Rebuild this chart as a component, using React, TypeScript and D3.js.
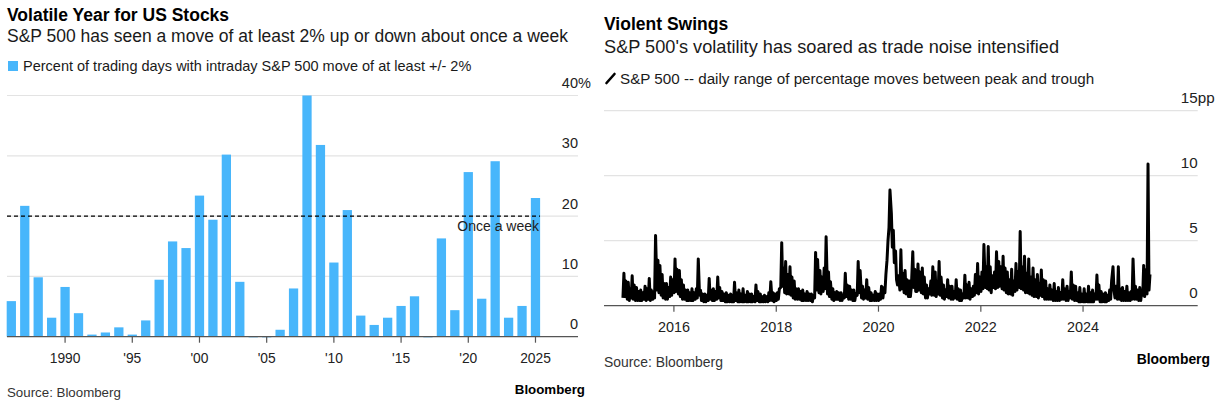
import React, { useRef, useEffect } from "react";
import * as d3 from "d3";

const WIDTH = 1221;
const HEIGHT = 406;
const FONT = '"Liberation Sans", Arial, Helvetica, sans-serif';
const BAR_COLOR = "#48b6fb";
const GRID_COLOR = "#e3e3e3";
const AXIS_COLOR = "#555";

// --- Left chart: share of trading days with a +/- 2% intraday move
const barYears = [
  1986, 1987, 1988, 1989, 1990, 1991, 1992, 1993, 1994, 1995,
  1996, 1997, 1998, 1999, 2000, 2001, 2002, 2003, 2004, 2005,
  2006, 2007, 2008, 2009, 2010, 2011, 2012, 2013, 2014, 2015,
  2016, 2017, 2018, 2019, 2020, 2021, 2022, 2023, 2024, 2025,
];
const pctBigMoveDays = [
  5.9, 21.7, 9.85, 3.15, 8.25, 3.9, 0.35, 0.7, 1.55, 0.35,
  2.7, 9.45, 15.8, 14.7, 23.4, 19.4, 30.2, 9.1, 0, 0,
  1.15, 8.0, 40.0, 31.8, 12.3, 21.0, 3.5, 1.95, 3.15, 5.1,
  6.7, 0, 16.3, 4.4, 27.3, 6.3, 29.1, 3.15, 5.1, 23.0,
];
const barTickYears = [1990, 1995, 2000, 2005, 2010, 2015, 2020, 2025];
const barTickLabels = ["1990", "'95", "'00", "'05", "'10", "'15", "'20", "2025"];
const pctTicks = [0, 10, 20, 30, 40];
const onceAWeek = 20;

// --- Right chart: daily range between peak and trough (pp)
// four readings per month (around the 2nd, 9th, 16th, 23rd), from Jan 2015
const readingDays = [2, 9, 16, 23];
const range2015 = [
  0.6, 2.5, 0.7, 1.9, 0.5, 1.8, 0.4, 1.3, 0.6, 2.3, 0.5, 1.6,
  0.4, 1.4, 0.4, 1.1, 0.4, 1.2, 0.4, 1.0, 0.5, 1.5, 0.4, 1.3,
  0.5, 2.1, 0.4, 1.2, 0.5, 1.1, 0.6, 5.4, 1.2, 3.5, 1.0, 3.1,
  0.8, 2.4, 0.6, 1.7, 0.5, 1.7, 0.5, 1.4, 0.7, 2.2, 0.8, 2.0,
];
const range2016 = [
  1.0, 3.6, 1.1, 2.8, 0.9, 2.7, 0.7, 2.0, 0.5, 1.6, 0.5, 1.2,
  0.4, 1.2, 0.4, 1.0, 0.4, 1.3, 0.4, 1.0, 0.5, 1.3, 0.6, 3.6,
  0.8, 1.2, 0.4, 0.9, 0.3, 0.9, 0.3, 0.8, 0.4, 2.1, 0.5, 1.2,
  0.4, 1.3, 0.4, 1.1, 0.5, 2.2, 0.6, 1.4, 0.4, 1.1, 0.4, 0.9,
];
const range2017 = [
  0.3, 1.0, 0.3, 0.8, 0.3, 0.9, 0.3, 0.8, 0.3, 1.8, 0.4, 1.0,
  0.3, 1.2, 0.3, 0.9, 0.3, 1.3, 0.3, 0.8, 0.3, 1.1, 0.3, 0.9,
  0.3, 0.9, 0.3, 0.7, 0.3, 1.6, 0.4, 1.1, 0.3, 0.9, 0.3, 0.7,
  0.3, 0.8, 0.3, 0.7, 0.3, 1.0, 0.4, 1.85, 0.4, 1.0, 0.3, 0.9,
];
const range2018 = [
  0.4, 1.0, 0.5, 1.3, 1.4, 4.85, 1.5, 2.9, 1.0, 3.4, 0.9, 2.4,
  0.9, 3.0, 0.8, 2.2, 0.6, 1.9, 0.5, 1.3, 0.5, 1.3, 0.5, 1.1,
  0.4, 1.2, 0.4, 0.9, 0.4, 1.1, 0.4, 0.9, 0.4, 0.9, 0.3, 0.8,
  0.6, 4.1, 1.2, 3.56, 1.0, 2.7, 0.9, 2.2, 1.1, 2.9, 1.3, 5.3,
];
const range2019 = [
  0.9, 2.6, 0.7, 1.85, 0.5, 1.3, 0.4, 1.0, 0.5, 1.1, 0.5, 1.0,
  0.4, 1.0, 0.4, 0.8, 0.6, 2.5, 0.7, 1.6, 0.5, 1.5, 0.5, 1.2,
  0.4, 1.2, 0.4, 0.9, 0.8, 3.4, 1.0, 2.7, 0.6, 1.5, 0.5, 1.2,
  0.6, 2.0, 0.5, 1.4, 0.4, 1.0, 0.4, 0.8, 0.4, 1.1, 0.4, 0.9,
];
const range2020 = [
  0.4, 0.9, 0.5, 1.5, 0.6, 1.4, 1.0, 2.4, 3.5, 5.0, 6.0, 8.9,
  7.1, 4.5, 5.8, 3.3, 4.2, 2.0, 1.6, 2.3, 1.2, 4.3, 1.3, 2.5,
  1.0, 2.7, 0.9, 2.0, 0.7, 1.9, 0.7, 1.5, 4.15, 1.4, 2.8, 1.1,
  1.1, 3.2, 1.2, 2.6, 1.0, 2.9, 0.9, 2.2, 0.6, 1.6, 0.6, 1.3,
];
const range2021 = [
  0.9, 1.9, 0.8, 3.0, 0.8, 2.6, 0.7, 1.8, 0.9, 3.4, 0.8, 2.2,
  0.6, 1.6, 0.5, 1.2, 0.7, 2.0, 0.6, 1.5, 0.5, 1.5, 0.5, 1.1,
  0.6, 2.0, 0.5, 1.3, 0.4, 1.2, 0.4, 0.9, 0.6, 2.35, 0.6, 1.6,
  0.6, 1.8, 0.5, 1.3, 0.7, 1.5, 0.8, 2.4, 1.0, 3.25, 0.9, 2.2,
];
const range2022 = [
  1.1, 2.6, 1.3, 4.7, 1.4, 3.0, 1.3, 4.55, 1.2, 3.0, 1.0, 2.3,
  1.4, 2.6, 1.3, 4.15, 1.4, 3.4, 1.5, 3.0, 1.3, 3.8, 1.2, 2.9,
  1.0, 2.6, 0.9, 2.0, 0.9, 2.8, 0.8, 1.9, 1.1, 3.25, 1.2, 2.6,
  1.4, 5.7, 1.3, 3.0, 1.2, 3.8, 1.0, 2.5, 1.0, 3.6, 0.9, 2.2,
];
const range2023 = [
  0.8, 2.9, 0.7, 2.0, 0.7, 2.4, 0.6, 1.7, 0.8, 2.75, 0.7, 2.0,
  0.5, 1.9, 0.5, 1.3, 0.5, 1.6, 0.5, 1.2, 0.4, 1.7, 0.4, 1.1,
  0.4, 1.4, 0.4, 1.0, 0.5, 2.0, 0.5, 1.3, 0.4, 1.5, 0.4, 1.1,
  0.6, 2.6, 0.5, 1.6, 0.4, 1.5, 0.4, 1.0, 0.3, 1.4, 0.3, 0.9,
];
const range2024 = [
  0.3, 1.3, 0.3, 0.9, 0.3, 1.5, 0.3, 1.0, 0.3, 1.2, 0.3, 0.9,
  0.5, 2.36, 0.5, 1.6, 0.3, 1.1, 0.3, 0.9, 0.3, 1.0, 0.3, 0.8,
  0.4, 1.2, 0.5, 1.9, 3.0, 1.2, 0.6, 1.5, 0.5, 3.0, 0.5, 1.3,
  0.4, 1.4, 0.4, 1.1, 0.4, 1.5, 0.4, 1.0, 0.4, 1.1, 0.5, 3.6,
];
const range2025 = [
  0.5, 1.5, 0.5, 1.2, 0.4, 1.4, 0.4, 1.1, 0.8, 3.1, 0.7, 2.75,
  0.9, 10.9, 1.2, 2.4,
];
const dailyRange = [
  ...range2015, ...range2016, ...range2017, ...range2018, ...range2019,
  ...range2020, ...range2021, ...range2022, ...range2023, ...range2024, ...range2025,
];
const rangeTickYears = [2016, 2018, 2020, 2022, 2024];
const rangeTicks = [0, 5, 10, 15];

const App = () => {
  const svgRef = useRef<SVGSVGElement | null>(null);

  useEffect(() => {
    if (!svgRef.current) return;
    const svg = d3.select(svgRef.current);
    svg.selectAll("*").remove();

    svg.append("rect").attr("width", WIDTH).attr("height", HEIGHT).attr("fill", "#fff");

    const text = (
      x: number,
      y: number,
      s: string,
      size: number,
      opts: { bold?: boolean; anchor?: string; fill?: string } = {}
    ) =>
      svg
        .append("text")
        .attr("x", x)
        .attr("y", y)
        .attr("font-family", FONT)
        .attr("font-size", size)
        .attr("font-weight", opts.bold ? 700 : 400)
        .attr("text-anchor", opts.anchor || "start")
        .attr("fill", opts.fill || "#1a1a1a")
        .text(s);

    // ================= LEFT PANEL =================
    const lLeft = 7;
    const lRight = 578;
    const x = d3
      .scaleBand<number>()
      .domain(barYears)
      .range([4.6, 542.2])
      .paddingInner(0.31)
      .paddingOuter(0.155);
    const y = d3.scaleLinear().domain([0, 40]).range([336.7, 95.5]);

    text(lLeft, 21, "Volatile Year for US Stocks", 17.5, { bold: true, fill: "#000" });
    text(lLeft, 41.5, "S&P 500 has seen a move of at least 2% up or down about once a week", 17.5);
    svg.append("rect").attr("x", 8).attr("y", 61).attr("width", 10).attr("height", 10).attr("fill", BAR_COLOR);
    text(23, 71, "Percent of trading days with intraday S&P 500 move of at least +/- 2%", 14.5);

    // grid
    svg
      .append("g")
      .selectAll("line")
      .data(pctTicks.filter((d) => d > 0))
      .enter()
      .append("line")
      .attr("x1", lLeft)
      .attr("x2", lRight)
      .attr("y1", (d) => y(d))
      .attr("y2", (d) => y(d))
      .attr("stroke", GRID_COLOR)
      .attr("stroke-width", 1.2);

    // y labels, unit hangs to the right of the top one
    pctTicks.forEach((d) => {
      text(lRight, y(d) - 7.5, String(d), 14.5, { anchor: "end", fill: "#222" });
      if (d === 40) text(lRight, y(d) - 7.5, "%", 14.5, { fill: "#222" });
    });

    // bars
    svg
      .append("g")
      .selectAll("rect")
      .data(pctBigMoveDays)
      .enter()
      .append("rect")
      .attr("x", (_, i) => x(barYears[i]) || 0)
      .attr("width", x.bandwidth())
      .attr("y", (d) => (d > 0 ? y(d) : y(0) - 0.5))
      .attr("height", (d) => (d > 0 ? y(0) - y(d) : 1.5))
      .attr("fill", BAR_COLOR)
      .attr("opacity", (d) => (d > 0 ? 1 : 0.5));

    // once a week line
    svg
      .append("line")
      .attr("x1", lLeft)
      .attr("x2", 540)
      .attr("y1", y(onceAWeek))
      .attr("y2", y(onceAWeek))
      .attr("stroke", "#000")
      .attr("stroke-width", 1.4)
      .attr("stroke-dasharray", "4,3");
    text(539, y(onceAWeek) + 15, "Once a week", 14, { anchor: "end", fill: "#222" });

    // baseline + ticks
    svg
      .append("line")
      .attr("x1", lLeft)
      .attr("x2", lRight)
      .attr("y1", y(0))
      .attr("y2", y(0))
      .attr("stroke", AXIS_COLOR)
      .attr("stroke-width", 1.3);
    barTickYears.forEach((yr, i) => {
      const cx = (x(yr) || 0) + x.bandwidth() / 2;
      svg
        .append("line")
        .attr("x1", cx)
        .attr("x2", cx)
        .attr("y1", y(0))
        .attr("y2", y(0) + 6)
        .attr("stroke", AXIS_COLOR)
        .attr("stroke-width", 1.2);
      text(cx, y(0) + 26, barTickLabels[i], 13.8, { anchor: "middle", fill: "#222" });
    });

    text(lLeft, 397, "Source: Bloomberg", 13.3, { fill: "#333" });
    text(585, 394, "Bloomberg", 13.3, { bold: true, anchor: "end", fill: "#000" });

    // ================= RIGHT PANEL =================
    const rLeft = 604;
    const rRight = 1197.7;
    const xT = d3
      .scaleTime()
      .domain([new Date(2015, 0, 1), new Date(2025, 0, 1)])
      .range([622.8, 1134.3]);
    const yR = d3.scaleLinear().domain([0, 15]).range([305.7, 110.7]);
    const rangeDates = dailyRange.map(
      (_, i) => new Date(2015, Math.floor(i / 4), readingDays[i % 4])
    );

    text(rLeft, 30, "Violent Swings", 17.5, { bold: true, fill: "#000" });
    text(rLeft, 53, "S&P 500's volatility has soared as trade noise intensified", 18.2);
    svg
      .append("line")
      .attr("x1", 606.5)
      .attr("x2", 614.5)
      .attr("y1", 83)
      .attr("y2", 74)
      .attr("stroke", "#000")
      .attr("stroke-width", 2.6)
      .attr("stroke-linecap", "round");
    text(620, 83.5, "S&P 500 -- daily range of percentage moves between peak and trough", 15.2);

    svg
      .append("g")
      .selectAll("line")
      .data(rangeTicks.filter((d) => d > 0))
      .enter()
      .append("line")
      .attr("x1", rLeft)
      .attr("x2", rRight)
      .attr("y1", (d) => yR(d))
      .attr("y2", (d) => yR(d))
      .attr("stroke", GRID_COLOR)
      .attr("stroke-width", 1.2);

    rangeTicks.forEach((d) => {
      text(rRight, yR(d) - 7.5, String(d), 15.2, { anchor: "end", fill: "#222" });
      if (d === 15) text(rRight, yR(d) - 7.5, "pp", 15.2, { fill: "#222" });
    });

    svg
      .append("line")
      .attr("x1", rLeft)
      .attr("x2", rRight)
      .attr("y1", yR(0))
      .attr("y2", yR(0))
      .attr("stroke", AXIS_COLOR)
      .attr("stroke-width", 1.3);
    rangeTickYears.forEach((yr) => {
      const cx = xT(new Date(yr, 0, 1));
      svg
        .append("line")
        .attr("x1", cx)
        .attr("x2", cx)
        .attr("y1", yR(0))
        .attr("y2", yR(0) + 6)
        .attr("stroke", AXIS_COLOR)
        .attr("stroke-width", 1.2);
      text(cx, yR(0) + 26, String(yr), 14.4, { anchor: "middle", fill: "#222" });
    });

    const line = d3
      .line<number>()
      .x((_, i) => xT(rangeDates[i]))
      .y((d) => yR(d));
    svg
      .append("path")
      .datum(dailyRange)
      .attr("fill", "none")
      .attr("stroke", "#000")
      .attr("stroke-width", 3)
      .attr("stroke-linejoin", "round")
      .attr("d", line);

    text(rLeft, 367, "Source: Bloomberg", 13.9, { fill: "#333" });
    text(1210, 364, "Bloomberg", 13.9, { bold: true, anchor: "end", fill: "#000" });
  }, []);

  return (
    <div style={{ position: "absolute", left: 0, top: 0 }}>
      <svg ref={svgRef} width={WIDTH} height={HEIGHT} style={{ display: "block" }} />
    </div>
  );
};

export default App;
